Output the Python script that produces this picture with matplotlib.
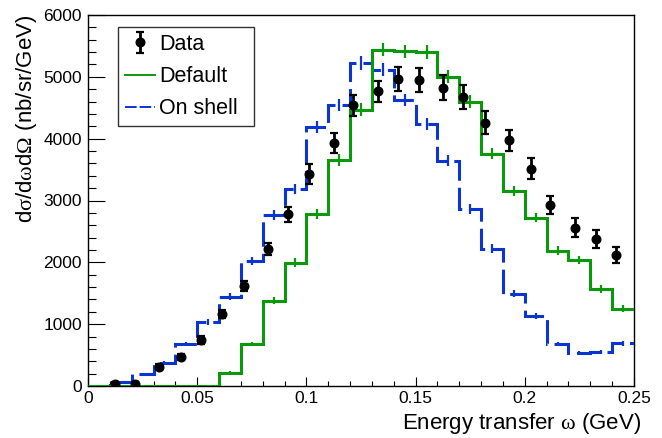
import matplotlib
matplotlib.use('Agg')
import matplotlib.pyplot as plt
import numpy as np
from matplotlib.lines import Line2D
from matplotlib.ticker import MultipleLocator, FuncFormatter

plt.rcParams['font.family'] = ['Liberation Sans', 'DejaVu Sans']
plt.rcParams['mathtext.fontset'] = 'custom'
plt.rcParams['mathtext.rm'] = 'Liberation Serif'
plt.rcParams['mathtext.it'] = 'Liberation Serif:italic'

# ---------------- data ----------------
bin_edges = np.round(np.arange(0, 0.2501, 0.01), 2)

default_vals = [0, 0, 0, 0, 0, 0, 215, 680, 1380, 1995, 2778, 3657, 4470,
                5440, 5410, 5405, 5000, 4600, 3760, 3158, 2723, 2190, 2039,
                1570, 1251]
default_err = [0, 0, 0, 0, 0, 0, 22, 39, 56, 67, 79, 91, 100, 111, 110, 110,
               106, 102, 92, 84, 78, 70, 68, 59, 53]

onshell_vals = [0, 60, 194, 377, 680, 1041, 1445, 2023, 2767, 3183, 4196,
                4547, 5222, 5113, 4628, 4236, 3643, 2859, 2222, 1495, 1133,
                680, 539, 550, 691]
onshell_err = [0, 12, 21, 29, 39, 48, 57, 67, 79, 85, 97, 101, 108, 107, 102,
               98, 90, 80, 71, 58, 50, 39, 35, 35, 39]

data_x = [0.0124, 0.0215, 0.0325, 0.0424, 0.0517, 0.0615, 0.0714, 0.0826,
          0.0916, 0.1013, 0.1126, 0.1215, 0.1326, 0.1418, 0.1517, 0.1627,
          0.1718, 0.1818, 0.1928, 0.2027, 0.2117, 0.2228, 0.2327, 0.2418]
data_y = [32, 32, 313, 475, 745, 1165, 1618, 2212, 2778, 3430, 3930, 4542,
          4763, 4963, 4951, 4827, 4672, 4261, 3972, 3511, 2929, 2561, 2379,
          2120]
data_err = [25, 25, 40, 50, 60, 70, 80, 95, 120, 160, 160, 170, 175, 195, 195,
            195, 200, 190, 175, 170, 145, 150, 145, 135]

green = '#0a990a'
blue = '#0a35d0'

# ---------------- figure ----------------
fig = plt.figure(figsize=(6.62, 4.38), dpi=100)
ax = fig.add_axes([88 / 662, 52 / 438, 546 / 662, 371 / 438])

centers = (bin_edges[:-1] + bin_edges[1:]) / 2

ax.stairs(onshell_vals, bin_edges, baseline=None, color=blue, lw=2.2,
          linestyle=(0, (8, 2.3)), zorder=3)
m = np.array(onshell_vals) > 0
ax.errorbar(centers[m], np.array(onshell_vals)[m], yerr=np.array(onshell_err)[m],
            fmt='none', ecolor=blue, elinewidth=1.6, zorder=3)

ax.stairs(default_vals, bin_edges, baseline=None, color=green, lw=2.2, zorder=4)
m = np.array(default_vals) > 0
ax.errorbar(centers[m], np.array(default_vals)[m], yerr=np.array(default_err)[m],
            fmt='none', ecolor=green, elinewidth=1.6, zorder=4)

data_h = ax.errorbar(data_x, data_y, yerr=data_err, fmt='o', color='black',
                     markersize=6.2, elinewidth=2.0, capsize=2.6, capthick=1.6,
                     zorder=5)

ax.set_xlim(0, 0.25)
ax.set_ylim(0, 6000)
ax.xaxis.set_major_locator(MultipleLocator(0.05))
ax.xaxis.set_minor_locator(MultipleLocator(0.01))
ax.yaxis.set_major_locator(MultipleLocator(1000))
ax.yaxis.set_minor_locator(MultipleLocator(200))
ax.xaxis.set_major_formatter(FuncFormatter(lambda v, p: '%g' % round(v, 3)))
ax.yaxis.set_major_formatter(FuncFormatter(lambda v, p: '%d' % round(v)))

ax.tick_params(axis='both', which='both', direction='in', top=False,
               right=False, colors='black', labelsize=12.5)
ax.tick_params(axis='y', which='major', length=12, width=0.8, pad=4.3)
ax.tick_params(axis='y', which='minor', length=6, width=0.8)
ax.tick_params(axis='x', which='major', length=6.5, width=0.8, pad=3.6)
ax.tick_params(axis='x', which='minor', length=3.3, width=0.8)
for s in ax.spines.values():
    s.set_linewidth(1.0)
    s.set_color('black')

ax.set_xlabel(r'Energy transfer $\mathrm{\omega}$ (GeV)', fontsize=16,
              ha='right', va='center')
ax.xaxis.set_label_coords((641 - 88) / 546, -(424 - 386) / 371)
ax.set_ylabel(r'd$\mathrm{\sigma}$/d$\mathrm{\omega}$d$\mathrm{\Omega}$ (nb/sr/GeV)',
              fontsize=16, ha='right', va='center')
ax.yaxis.set_label_coords(-(88 - 27) / 546, 1.0)

h_def = Line2D([], [], color=green, lw=1.4)
h_on = Line2D([], [], color=blue, lw=1.4, linestyle=(0, (6, 1.5)))
leg = ax.legend([data_h, h_def, h_on], ['Data', 'Default', 'On shell'],
                loc='upper left',
                bbox_to_anchor=(30 / 546, 1 - 12 / 371, 136 / 546, 0),
                mode='expand',
                fontsize=15.5, frameon=True, fancybox=False, framealpha=1,
                edgecolor='#333333', handlelength=1.4, handletextpad=0.2,
                labelspacing=0.52, borderpad=0.32, borderaxespad=0)
leg.get_frame().set_linewidth(1.0)

fig.savefig('out.png', dpi=100)
